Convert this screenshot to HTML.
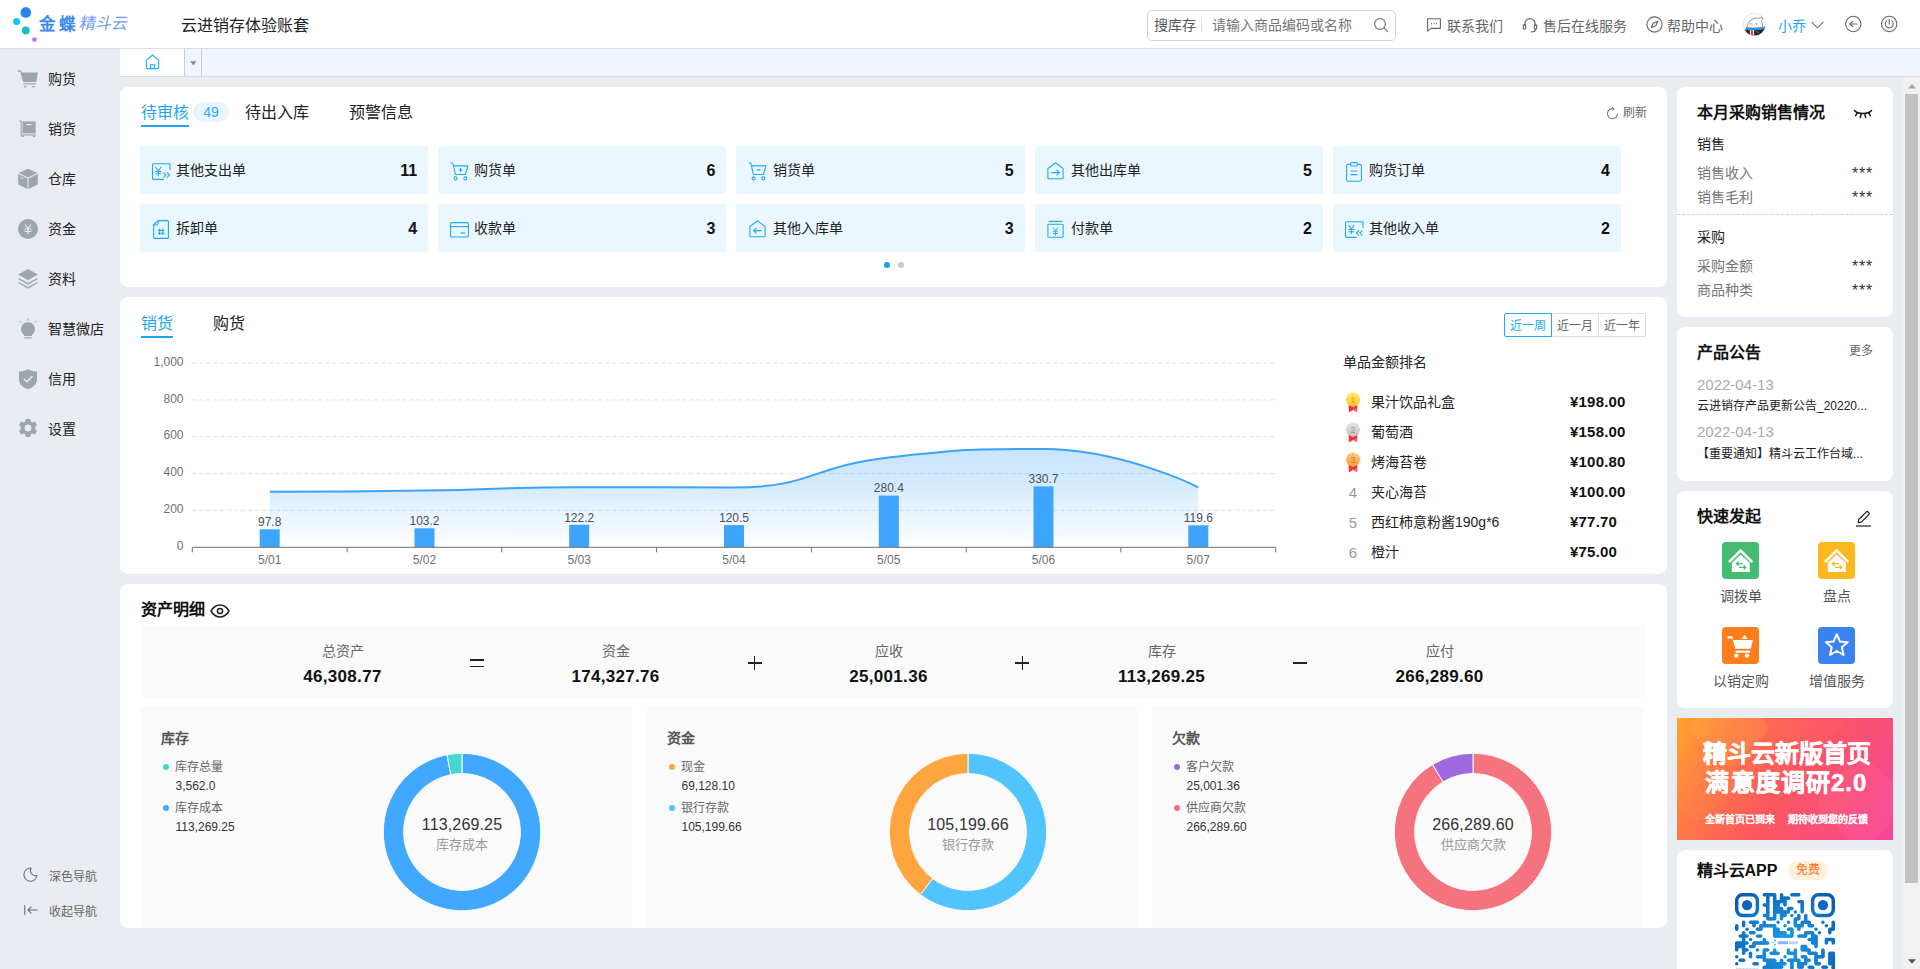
<!DOCTYPE html>
<html lang="zh-CN">
<head>
<meta charset="utf-8">
<title>云进销存体验账套</title>
<style>
*{box-sizing:border-box;margin:0;padding:0}
html,body{width:1920px;height:969px;overflow:hidden}
body{font-family:"Liberation Sans",sans-serif;background:#e9ecf1;color:#222;font-size:14px;position:relative}
.abs{position:absolute}
svg{display:block;overflow:visible}
/* header */
#hdr{position:absolute;left:0;top:0;width:1920px;height:49px;background:#fff;border-bottom:1px solid #dcdfe4}
#hdr .t{position:absolute;white-space:nowrap;line-height:20px;font-size:14px;color:#666}
/* tabbar */
#tabbar{position:absolute;left:120px;top:49px;width:1800px;height:28px;background:#f0f5fd;border-bottom:1px solid #dadde2}
#tabbar .home{position:absolute;left:0;top:0;width:65px;height:27px;background:#fff;border-right:1px solid #cbcdd0}
#tabbar .dd{position:absolute;left:65px;top:0;width:17px;height:27px;border-right:1px solid #cbcdd0}
/* sidebar */
#side{position:absolute;left:0;top:49px;width:120px;height:920px;background:#e9ecf1}
#side .it{position:absolute;left:0;width:120px;height:20px}
#side .it svg{position:absolute;left:17px;top:-1px}
#side .it span{position:absolute;left:48px;top:0;line-height:20px;font-size:14px;color:#222;white-space:nowrap}
#side .bt span{position:absolute;left:49px;top:0;line-height:20px;font-size:12px;color:#666;white-space:nowrap}
/* cards */
.card{position:absolute;background:#fff;border-radius:8px}
.tile{position:absolute;width:288.2px;height:48px;background:#eaf7ff;border-radius:2px}
.tile svg{position:absolute;left:11px;top:15px}
.tile span{position:absolute;left:36.2px;top:14px;line-height:20px;font-size:14px;color:#222;white-space:nowrap}
.tile b{position:absolute;right:11px;top:14px;line-height:22px;font-size:16px;color:#111;font-weight:700}
.tx{position:absolute;white-space:nowrap}
</style>
</head>
<body>
<!-- HEADER -->
<div id="hdr">
<svg class="abs" style="left:0;top:0" width="50" height="48" viewBox="0 0 50 48">
<defs><linearGradient id="lg1" x1="0" y1="0" x2="1" y2="1"><stop offset="0" stop-color="#3a8cf5"/><stop offset="1" stop-color="#1f7af0"/></linearGradient></defs>
<circle cx="25.8" cy="12.4" r="5.3" fill="#2b83f3"/>
<circle cx="16.6" cy="21.6" r="3.5" fill="#12c6fb"/>
<circle cx="25.8" cy="30.5" r="3.9" fill="#14c3bd"/>
<circle cx="34.5" cy="39.6" r="2.4" fill="#b27cf7"/>
</svg>
<div class="tx" style="left:38.800px;top:12.200px;line-height:24px;font-size:16.500px;font-weight:700;color:#3b87f3;letter-spacing:3px">金蝶</div>
<div class="tx" style="left:79.500px;top:12.300px;line-height:24px;font-size:16px;transform:skewX(-11deg);color:#6f9df6;letter-spacing:0">精斗云</div>
<div class="tx" style="left:181px;top:14px;line-height:24px;font-size:16px;color:#222">云进销存体验账套</div>
<!-- search -->
<div class="abs" style="left:1147px;top:10px;width:249px;height:31px;border:1px solid #d4d4d4;border-radius:5px;background:#fff"></div>
<div class="t" style="left:1154px;top:15px;color:#555">搜库存</div>
<div class="abs" style="left:1201px;top:18px;width:1px;height:14px;background:#ddd"></div>
<div class="t" style="left:1212px;top:15px;color:#777">请输入商品编码或名称</div>
<svg class="abs" style="left:1373px;top:17px" width="16" height="16" viewBox="0 0 16 16" fill="none" stroke="#777" stroke-width="1.2"><circle cx="7" cy="7" r="5.4"/><path d="M11 11l3.6 3.6" stroke-linecap="round"/></svg>
<!-- contact -->
<svg class="abs" style="left:1426px;top:17px" width="16" height="16" viewBox="0 0 16 16" fill="none" stroke="#666" stroke-width="1.1"><path d="M1.6 1.8h12.8v9.6H5l-3.4 2.8z" stroke-linejoin="round"/><path d="M5 6.6h1M7.5 6.6h1M10 6.6h1" stroke-width="1.3"/></svg>
<div class="t" style="left:1447px;top:16px">联系我们</div>
<svg class="abs" style="left:1522px;top:17px" width="16" height="16" viewBox="0 0 16 16" fill="none" stroke="#666" stroke-width="1.2"><path d="M3 9V6.6a5 5 0 0 1 10 0V9"/><rect x="1.3" y="7.6" width="2.4" height="4.6" rx="1.1"/><rect x="12.3" y="7.6" width="2.4" height="4.6" rx="1.1"/><path d="M13.5 12.2c0 1.6-1.4 2.6-4 2.6" stroke-linecap="round"/></svg>
<div class="t" style="left:1543px;top:16px">售后在线服务</div>
<svg class="abs" style="left:1646px;top:16px" width="17" height="17" viewBox="0 0 17 17" fill="none" stroke="#666" stroke-width="1.1"><circle cx="8.5" cy="8.5" r="7.6"/><path d="M11.8 5.2l-2 4.6-4.6 2 2-4.6z" stroke-linejoin="round"/></svg>
<div class="t" style="left:1667px;top:16px">帮助中心</div>
<!-- avatar -->
<svg class="abs" style="left:1743px;top:13px" width="24" height="24" viewBox="0 0 24 24">
<defs><clipPath id="avc"><circle cx="11.400" cy="11.500" r="11"/></clipPath></defs>
<circle cx="11.400" cy="11.500" r="11.200" fill="#fff" stroke="#dcdcdc" stroke-width="0.700"/>
<g clip-path="url(#avc)">
<path d="M3.900 15C4.200 11.500 5.800 8.500 9 6.300c2-1.100 5.500-1.300 8.200-1.300l2-1.100c.8.100 1.100.5.900 1.100l-1.600 2.700c.6 1.300 1.100 4.300 1.300 7.300z" fill="#fff" stroke="#85706c" stroke-width="0.800" stroke-linejoin="round"/>
<path d="M2 16.400c6 .6 14 .4 21-1.200V24H2z" fill="#2a2522"/>
<path d="M2.800 14.300c5.500 1 13 .8 20-1.100l.3 2.300c-7 2-14.500 2.100-20.300 1.400z" fill="#2e93e6"/>
<rect x="6.900" y="17" width="1.100" height="7" fill="#f4f4f4"/><rect x="8" y="17" width="1.800" height="7" fill="#d93a3a"/><rect x="9.800" y="17" width="1.300" height="7" fill="#f4f4f4"/>
<rect x="7.300" y="10.200" width=".9" height="1.300" fill="#555"/><rect x="12.900" y="10.200" width=".9" height="1.300" fill="#555"/>
<circle cx="9.900" cy="12.200" r=".6" fill="#f5a3a3"/>
<circle cx="14" cy="18.700" r=".6" fill="#3cc8c0"/><circle cx="15.300" cy="19.300" r=".5" fill="#3cc8c0"/><circle cx="13.600" cy="19.800" r=".4" fill="#e05aa0"/>
</g></svg>
<div class="t" style="left:1778px;top:16px;color:#21a3ee">小乔</div>
<svg class="abs" style="left:1811px;top:21px" width="13" height="8" viewBox="0 0 13 8" fill="none" stroke="#777" stroke-width="1.1"><path d="M.6 1l5.900 5.800L12.400 1"/></svg>
<svg class="abs" style="left:1844px;top:15px" width="18" height="18" viewBox="0 0 18 18" fill="none" stroke="#666" stroke-width="1.1"><circle cx="9.300" cy="9" r="7.700"/><path d="M13 9H6.200M8.800 6.300L6 9l2.800 2.700" stroke-linecap="round" stroke-linejoin="round"/></svg>
<svg class="abs" style="left:1880px;top:15px" width="18" height="18" viewBox="0 0 18 18" fill="none" stroke="#666" stroke-width="1.1"><circle cx="9.200" cy="9" r="7.700"/><path d="M9.200 4.200v5M6.600 5.900a4 4 0 1 0 5.200 0" stroke-linecap="round"/></svg>
</div>
<!-- TABBAR -->
<div id="tabbar"><div class="home"><svg class="abs" style="left:25px;top:5px" width="15" height="16" viewBox="0 0 15 16" fill="none" stroke="#22a8fb" stroke-width="1.1"><path d="M1.300 6.300L7.500 1l6.200 5.300v7.500a.8.800 0 0 1-.8.800H2.100a.8.800 0 0 1-.8-.8z" stroke-linejoin="round"/><path d="M5.600 14.500v-3.700h3.800v3.700"/></svg></div><div class="dd"><svg class="abs" style="left:5px;top:12px" width="7" height="5" viewBox="0 0 7 5"><path d="M0 .3h6.600L3.300 4.300z" fill="#8a8a8a"/></svg></div></div>
<!-- SIDEBAR -->
<div id="side">
<div class="it" style="top:20px"><svg width="22" height="22" viewBox="0 0 22 22"><path d="M.8 2.200h3.200l.9 2.400h16l-1.600 9.400H6.200L3.200 3.700H.8z" fill="#9da6ac"/><rect x="6.400" y="15.300" width="12.600" height="1.100" fill="#9da6ac"/><rect x="7" y="17.900" width="2.400" height="1.500" fill="#9da6ac"/><rect x="15.400" y="17.900" width="2.400" height="1.500" fill="#9da6ac"/></svg><span>购货</span></div>
<div class="it" style="top:70px"><svg width="22" height="22" viewBox="0 0 22 22"><path d="M2 3h2.200v14.800" fill="none" stroke="#9da6ac" stroke-width="1.100"/><rect x="5.500" y="3.400" width="13.200" height="12" fill="#9da6ac"/><rect x="9.500" y="6" width="5" height="1.100" fill="#e9ecf1"/><rect x="3.800" y="16.400" width="15" height="1.200" fill="#9da6ac"/><rect x="4.600" y="17.600" width="2.200" height="1.400" fill="#9da6ac"/><rect x="16" y="17.600" width="2.200" height="1.400" fill="#9da6ac"/></svg><span>销货</span></div>
<div class="it" style="top:120px"><svg width="22" height="22" viewBox="0 0 22 22"><path d="M11 .8l9.300 4.300-9.300 4.400L1.700 5.100z" fill="#9da6ac"/><path d="M1.200 6.100l9.300 4.400v10.500l-9.300-4.600z" fill="#9da6ac"/><path d="M20.800 6.100l-9.300 4.400v10.500l9.300-4.600z" fill="#9da6ac"/><path d="M3.200 9.300l3.200 1.500" stroke="#e9ecf1" stroke-width="1"/></svg><span>仓库</span></div>
<div class="it" style="top:170px"><svg width="22" height="22" viewBox="0 0 22 22"><circle cx="11" cy="11" r="10" fill="#9da6ac"/><path d="M8 6.500l3 4 3-4M7.600 11h6.800M7.600 13.400h6.800M11 10.500v5.500" fill="none" stroke="#e9ecf1" stroke-width="1.100"/></svg><span>资金</span></div>
<div class="it" style="top:220px"><svg width="22" height="22" viewBox="0 0 22 22"><path d="M11 1l10 5.600-10 5.600L1 6.600z" fill="#9da6ac"/><path d="M2.600 10.200L1 11.100l10 5.600 10-5.600-1.600-.9L11 14.900z" fill="#9da6ac"/><path d="M2.600 14.200L1 15.100l10 5.600 10-5.600-1.600-.9L11 18.900z" fill="#9da6ac"/></svg><span>资料</span></div>
<div class="it" style="top:270px"><svg width="22" height="22" viewBox="0 0 22 22"><path d="M11 4.200a7 7 0 0 1 4 12.700v1.100H7v-1.100A7 7 0 0 1 11 4.200z" fill="#9da6ac"/><rect x="7.200" y="19.200" width="7.600" height="1.200" fill="#9da6ac"/><path d="M11 .6v2.200M3 3.200l1.500 1.600M19 3.200l-1.500 1.600" stroke="#9da6ac" stroke-width="1" fill="none"/></svg><span>智慧微店</span></div>
<div class="it" style="top:320px"><svg width="22" height="22" viewBox="0 0 22 22"><path d="M11 1c2.500 1.500 5.500 2.400 9 2.600V11c0 5-3.500 8.200-9 10.200C5.500 19.200 2 16 2 11V3.600C5.500 3.400 8.500 2.500 11 1z" fill="#9da6ac"/><path d="M7 11l3 2.800 5.400-5.600" fill="none" stroke="#e9ecf1" stroke-width="1.400"/></svg><span>信用</span></div>
<div class="it" style="top:370px"><svg width="22" height="22" viewBox="0 0 22 22"><path d="M9.200 1.400h3.600l.6 2.600 1.700.9 2.500-1 1.900 3-1.800 2v2.200l1.800 2-1.900 3-2.500-1-1.700.9-.6 2.600H9.200l-.6-2.600-1.700-.9-2.500 1-1.900-3 1.800-2V8.900l-1.800-2 1.900-3 2.500 1 1.700-.9z" fill="#9da6ac" stroke="#9da6ac" stroke-width="1" stroke-linejoin="round"/><circle cx="11" cy="10" r="3.400" fill="#e9ecf1"/></svg><span>设置</span></div>
<div class="it bt" style="top:817.500px"><svg style="left:23.200px;top:.8px" width="15" height="15" viewBox="0 0 16 16" fill="none" stroke="#5f6f7e" stroke-width="1.100"><path d="M8.600 1.200A7 7 0 1 0 14.900 9 5.400 5.400 0 0 1 8.600 1.200z" stroke-linejoin="round"/></svg><span>深色导航</span></div>
<div class="it bt" style="top:852.500px"><svg style="left:23.500px;top:3px" width="14" height="10" viewBox="0 0 14 10" fill="none" stroke="#5f6f7e" stroke-width="1.100"><path d="M.8 .3v9.400M13.500 5H4M7.400 1.600L4 5l3.400 3.400"/></svg><span>收起导航</span></div>
</div>
<!-- CARD1 -->
<div class="card" id="c1" style="left:120px;top:87px;width:1547px;height:200px">
<div class="tx" style="left:21px;top:14px;line-height:24px;font-size:16px;color:#1fa5ef">待审核</div>
<div class="abs" style="left:21px;top:38px;width:48px;height:2px;background:#1fa5ef"></div>
<div class="abs" style="left:73px;top:15px;width:36px;height:20px;border-radius:10px;background:#e8f5ff;color:#2aa9f6;font-size:14px;line-height:20px;text-align:center">49</div>
<div class="tx" style="left:125px;top:14px;line-height:24px;font-size:16px;color:#222">待出入库</div>
<div class="tx" style="left:229px;top:14px;line-height:24px;font-size:16px;color:#222">预警信息</div>
<svg class="abs" style="left:1486px;top:20px" width="13" height="13" viewBox="0 0 13 13" fill="none" stroke="#777" stroke-width="1.100"><path d="M7.600 1.800A5 5 0 1 0 11.500 6.800"/><path d="M6 .3l2.200 1.500L6.400 3.800" stroke-width="1"/></svg>
<div class="tx" style="left:1503px;top:17.200px;line-height:18px;font-size:12px;color:#666">刷新</div>
<div class="tile" style="left:20.0px;top:59px"><svg style="left:12px;top:17px" width="19" height="18" viewBox="0 0 19 18" fill="none" stroke="#22a8fb" stroke-width="1.100" ><path d="M18 7V1.600a.8.800 0 0 0-.8-.8H1.300a.8.800 0 0 0-.8.800v14a.8.800 0 0 0 .8.800H12"/><path d="M3.400 4l2.900 3.900L9.200 4M3.300 8.500h6M3.300 10.700h6M6.300 7.900v5.300" stroke-width="1.100"/><path d="M11.400 9.400l2.500 2.600-2.500 2.600M14.900 9.400l2.500 2.600-2.500 2.600" stroke-width="1.100"/></svg><span>其他支出单</span><b>11</b></div>
<div class="tile" style="left:318.2px;top:59px"><svg style="left:12px;top:16px" width="19" height="19" viewBox="0 0 19 19" fill="none" stroke="#22a8fb" stroke-width="1.100" ><path d="M.5 1h2.300l2.600 11.500h10l2.600-8.600H3.600" stroke-linejoin="round"/><circle cx="5.600" cy="16.400" r="1.500"/><circle cx="15.300" cy="16.400" r="1.500"/><path d="M8.600 8h4M10.600 6v4" stroke-width="1.200"/></svg><span>购货单</span><b>6</b></div>
<div class="tile" style="left:616.4px;top:59px"><svg style="left:12px;top:16px" width="19" height="19" viewBox="0 0 19 19" fill="none" stroke="#22a8fb" stroke-width="1.100" ><path d="M.5 1h2.300l2.600 11.500h10l2.600-8.600H3.600" stroke-linejoin="round"/><circle cx="5.600" cy="16.400" r="1.500"/><circle cx="15.300" cy="16.400" r="1.500"/><path d="M8.600 8h4" stroke-width="1.200"/></svg><span>销货单</span><b>5</b></div>
<div class="tile" style="left:914.6px;top:59px"><svg style="left:12.5px;top:16px" width="17" height="18" viewBox="0 0 17 18" fill="none" stroke="#22a8fb" stroke-width="1.100" ><path d="M.9 6.500L8.500.8l7.600 5.700v9.900a.4.400 0 0 1-.4.400H1.300a.4.400 0 0 1-.4-.4z" stroke-linejoin="miter"/><path d="M4.300 10.600h8M9.600 7.800l2.800 2.800-2.800 2.800" stroke-width="1.100"/></svg><span>其他出库单</span><b>5</b></div>
<div class="tile" style="left:1212.8px;top:59px"><svg style="left:13px;top:15.5px" width="16" height="20" viewBox="0 0 16 20" fill="none" stroke="#22a8fb" stroke-width="1.100" ><rect x=".6" y="2.400" width="14.800" height="16.800" rx="1.600"/><rect x="4.600" y=".6" width="6.800" height="3.400" rx="1" fill="#eaf7ff"/><path d="M4.600 9h6.800M4.600 12.600h6.800" stroke-width="1.200"/></svg><span>购货订单</span><b>4</b></div>
<div class="tile" style="left:20.0px;top:117px"><svg style="left:12.5px;top:16px" width="16" height="19" viewBox="0 0 16 19" fill="none" stroke="#22a8fb" stroke-width="1.100" ><path d="M5 .6h9.400a1 1 0 0 1 1 1v15.800a1 1 0 0 1-1 1H1.600a1 1 0 0 1-1-1V5z" stroke-linejoin="round"/><path d="M5 .6v3.400a1 1 0 0 1-1 1H.6" stroke-width="1"/><path d="M6.600 8.600v6.400M9.800 8.600v6.400M5 10.400h6.400M5 13.200h6.400" stroke-width="1.100"/></svg><span>拆卸单</span><b>4</b></div>
<div class="tile" style="left:318.2px;top:117px"><svg style="left:12px;top:18px" width="19" height="16" viewBox="0 0 19 16" fill="none" stroke="#22a8fb" stroke-width="1.100" ><rect x=".6" y=".6" width="17.800" height="14.400" rx="1.400"/><path d="M.6 4.600h17.800" stroke-width="1.100"/><path d="M10.600 11h4.400" stroke-width="1.200"/></svg><span>收款单</span><b>3</b></div>
<div class="tile" style="left:616.4px;top:117px"><svg style="left:12.5px;top:16px" width="17" height="18" viewBox="0 0 17 18" fill="none" stroke="#22a8fb" stroke-width="1.100" ><path d="M.9 6.500L8.500.8l7.600 5.700v9.900a.4.400 0 0 1-.4.400H1.300a.4.400 0 0 1-.4-.4z" stroke-linejoin="miter"/><path d="M12.700 10.600h-8M7.400 7.800l-2.800 2.800 2.800 2.800" stroke-width="1.100"/></svg><span>其他入库单</span><b>3</b></div>
<div class="tile" style="left:914.6px;top:117px"><svg style="left:12.5px;top:15px" width="17" height="19" viewBox="0 0 17 19" fill="none" stroke="#22a8fb" stroke-width="1.100" ><path d="M1.600 2.400h13.800" stroke-width="1.200"/><rect x=".9" y="5.300" width="15.200" height="13" rx=".8"/><path d="M6 8.300l2.500 3.300 2.500-3.300M6 12.200h5M6 14.500h5M8.500 11.600v4.800" stroke-width="1"/></svg><span>付款单</span><b>2</b></div>
<div class="tile" style="left:1212.8px;top:117px"><svg style="left:12px;top:17px" width="19" height="18" viewBox="0 0 19 18" fill="none" stroke="#22a8fb" stroke-width="1.100" ><path d="M18 7V1.600a.8.800 0 0 0-.8-.8H1.300a.8.800 0 0 0-.8.800v14a.8.800 0 0 0 .8.800H12"/><path d="M3.400 4l2.900 3.900L9.200 4M3.300 8.500h6M3.300 10.700h6M6.300 7.900v5.300" stroke-width="1.100"/><path d="M13.900 9.400l-2.500 2.600 2.500 2.600M17.400 9.400l-2.500 2.600 2.500 2.600" stroke-width="1.100"/></svg><span>其他收入单</span><b>2</b></div>
<div class="abs" style="left:764px;top:175px;width:6px;height:6px;border-radius:3px;background:#1b9ef0"></div>
<div class="abs" style="left:778px;top:175px;width:6px;height:6px;border-radius:3px;background:#c9c9c9"></div>
</div>
<!-- CARD2 -->
<div class="card" id="c2" style="left:120px;top:297px;width:1547px;height:277px">
<div class="tx" style="left:21px;top:15px;line-height:24px;font-size:16px;color:#1fa5ef">销货</div>
<div class="abs" style="left:21px;top:39px;width:32px;height:2px;background:#1fa5ef"></div>
<div class="tx" style="left:93px;top:15px;line-height:24px;font-size:16px;color:#222">购货</div>
<div class="abs" style="left:1431px;top:16px;width:48px;height:24px;border:1px solid #d9dde2;border-left:none;font-size:12px;padding-top:1.200px;line-height:22.500px;text-align:center;color:#666">近一月</div>
<div class="abs" style="left:1479px;top:16px;width:47px;height:24px;border:1px solid #d9dde2;border-left:none;border-radius:0 2px 2px 0;font-size:12px;padding-top:1.200px;line-height:22.500px;text-align:center;color:#666">近一年</div>
<div class="abs" style="left:1384px;top:16px;width:48px;height:24px;border:1px solid #1fa9fc;border-radius:2px 0 0 2px;font-size:12px;padding-top:1.200px;line-height:22.500px;text-align:center;color:#22a8fa;background:#fff">近一周</div>
<svg class="abs" style="left:0;top:0" width="1547" height="277" viewBox="120 297 1547 277" font-family="Liberation Sans, sans-serif" font-size="12">
<defs><linearGradient id="ag" x1="0" y1="449" x2="0" y2="547" gradientUnits="userSpaceOnUse"><stop offset="0" stop-color="#4aa8fb" stop-opacity=".30"/><stop offset=".35" stop-color="#4aa8fb" stop-opacity=".24"/><stop offset="1" stop-color="#4aa8fb" stop-opacity="0"/></linearGradient></defs>
<path d="M192.3 363.0H1275.7" stroke="#dce2ed" stroke-width="1" stroke-dasharray="4 3" fill="none"/>
<text x="183.5" y="365.6" text-anchor="end" fill="#6e7079">1,000</text>
<path d="M192.3 399.9H1275.7" stroke="#dce2ed" stroke-width="1" stroke-dasharray="4 3" fill="none"/>
<text x="183.5" y="402.5" text-anchor="end" fill="#6e7079">800</text>
<path d="M192.3 436.7H1275.7" stroke="#dce2ed" stroke-width="1" stroke-dasharray="4 3" fill="none"/>
<text x="183.5" y="439.3" text-anchor="end" fill="#6e7079">600</text>
<path d="M192.3 473.6H1275.7" stroke="#dce2ed" stroke-width="1" stroke-dasharray="4 3" fill="none"/>
<text x="183.5" y="476.2" text-anchor="end" fill="#6e7079">400</text>
<path d="M192.3 510.4H1275.7" stroke="#dce2ed" stroke-width="1" stroke-dasharray="4 3" fill="none"/>
<text x="183.5" y="513.0" text-anchor="end" fill="#6e7079">200</text>
<text x="183.5" y="549.9" text-anchor="end" fill="#6e7079">0</text>
<path d="M269.7 491.8C269.7 491.8 347.1 491.8 424.5 490.6C501.9 489.5 501.8 487.2 579.2 487.2C656.6 487.2 657.3 487.5 734.0 487.5C812.1 487.5 810.7 466.2 888.8 457.5C965.5 449.0 967.2 449.0 1043.5 449.0C1122.0 449.0 1198.3 487.3 1198.3 487.3L1198.3 547.3L269.7 547.3Z" fill="url(#ag)"/>
<path d="M269.7 491.8C269.7 491.8 347.1 491.8 424.5 490.6C501.9 489.5 501.8 487.2 579.2 487.2C656.6 487.2 657.3 487.5 734.0 487.5C812.1 487.5 810.7 466.2 888.8 457.5C965.5 449.0 967.2 449.0 1043.5 449.0C1122.0 449.0 1198.3 487.3 1198.3 487.3" fill="none" stroke="#3ba3fb" stroke-width="2" stroke-linejoin="round"/>
<rect x="259.7" y="529.3" width="20" height="18.0" fill="#3ea5ff"/>
<text x="269.7" y="526.0" text-anchor="middle" fill="#4a4f57">97.8</text>
<text x="269.7" y="563.6" text-anchor="middle" fill="#6e7079">5/01</text>
<rect x="414.5" y="528.3" width="20" height="19.0" fill="#3ea5ff"/>
<text x="424.5" y="525.0" text-anchor="middle" fill="#4a4f57">103.2</text>
<text x="424.5" y="563.6" text-anchor="middle" fill="#6e7079">5/02</text>
<rect x="569.2" y="524.8" width="20" height="22.5" fill="#3ea5ff"/>
<text x="579.2" y="521.5" text-anchor="middle" fill="#4a4f57">122.2</text>
<text x="579.2" y="563.6" text-anchor="middle" fill="#6e7079">5/03</text>
<rect x="724.0" y="525.1" width="20" height="22.2" fill="#3ea5ff"/>
<text x="734.0" y="521.8" text-anchor="middle" fill="#4a4f57">120.5</text>
<text x="734.0" y="563.6" text-anchor="middle" fill="#6e7079">5/04</text>
<rect x="878.8" y="495.6" width="20" height="51.7" fill="#3ea5ff"/>
<text x="888.8" y="492.3" text-anchor="middle" fill="#4a4f57">280.4</text>
<text x="888.8" y="563.6" text-anchor="middle" fill="#6e7079">5/05</text>
<rect x="1033.5" y="486.4" width="20" height="60.9" fill="#3ea5ff"/>
<text x="1043.5" y="483.1" text-anchor="middle" fill="#4a4f57">330.7</text>
<text x="1043.5" y="563.6" text-anchor="middle" fill="#6e7079">5/06</text>
<rect x="1188.3" y="525.3" width="20" height="22.0" fill="#3ea5ff"/>
<text x="1198.3" y="522.0" text-anchor="middle" fill="#4a4f57">119.6</text>
<text x="1198.3" y="563.6" text-anchor="middle" fill="#6e7079">5/07</text>
<path d="M192.3 547.3H1275.7" stroke="#6e7079" stroke-width="1" fill="none"/>
<path d="M192.3 547.3v5" stroke="#6e7079" stroke-width="1" fill="none"/>
<path d="M347.1 547.3v5" stroke="#6e7079" stroke-width="1" fill="none"/>
<path d="M501.8 547.3v5" stroke="#6e7079" stroke-width="1" fill="none"/>
<path d="M656.6 547.3v5" stroke="#6e7079" stroke-width="1" fill="none"/>
<path d="M811.4 547.3v5" stroke="#6e7079" stroke-width="1" fill="none"/>
<path d="M966.2 547.3v5" stroke="#6e7079" stroke-width="1" fill="none"/>
<path d="M1120.9 547.3v5" stroke="#6e7079" stroke-width="1" fill="none"/>
<path d="M1275.7 547.3v5" stroke="#6e7079" stroke-width="1" fill="none"/>
</svg>
<div class="tx" style="left:1223px;top:55px;line-height:20px;font-size:14px;color:#222">单品金额排名</div>
<svg class="abs" style="left:1225px;top:95px" width="16" height="22" viewBox="0 0 16 22"><defs><linearGradient id="mg1" x1="0" y1="0" x2="0" y2="1"><stop offset="0" stop-color="#ffe96a"/><stop offset="1" stop-color="#fdc52c"/></linearGradient></defs><path d="M3.800 12.500v7.900l4.200-2.500z" fill="#f3333b"/><path d="M12.200 12.500v7.900L8 17.900z" fill="#f7636c"/><path d="M3.800 12.500h8.400v3.500L8 17.900 3.800 16z" fill="#f3333b"/><polygon points="8.00,0.60 10.41,1.78 12.95,2.65 13.82,5.19 15.00,7.60 13.82,10.01 12.95,12.55 10.41,13.42 8.00,14.60 5.59,13.42 3.05,12.55 2.18,10.01 1.00,7.60 2.18,5.19 3.05,2.65 5.59,1.78" fill="url(#mg1)" stroke="url(#mg1)" stroke-width="1" stroke-linejoin="round"/><text x="8" y="10.800" font-size="9" text-anchor="middle" fill="#e49a1c" font-family="Liberation Sans, sans-serif">1</text></svg>
<div class="tx" style="left:1251px;top:95px;line-height:20px;font-size:14px;color:#222">果汁饮品礼盒</div>
<div class="tx" style="left:1450px;top:95px;line-height:20px;font-size:15px;font-weight:700;color:#111;letter-spacing:.2px">¥198.00</div>
<svg class="abs" style="left:1225px;top:125px" width="16" height="22" viewBox="0 0 16 22"><defs><linearGradient id="mg2" x1="0" y1="0" x2="0" y2="1"><stop offset="0" stop-color="#e4e4e4"/><stop offset="1" stop-color="#c4c4c4"/></linearGradient></defs><path d="M3.800 12.500v7.900l4.200-2.500z" fill="#f3333b"/><path d="M12.200 12.500v7.900L8 17.900z" fill="#f7636c"/><path d="M3.800 12.500h8.400v3.500L8 17.900 3.800 16z" fill="#f3333b"/><polygon points="8.00,0.60 10.41,1.78 12.95,2.65 13.82,5.19 15.00,7.60 13.82,10.01 12.95,12.55 10.41,13.42 8.00,14.60 5.59,13.42 3.05,12.55 2.18,10.01 1.00,7.60 2.18,5.19 3.05,2.65 5.59,1.78" fill="url(#mg2)" stroke="url(#mg2)" stroke-width="1" stroke-linejoin="round"/><text x="8" y="10.800" font-size="9" text-anchor="middle" fill="#9a9a9a" font-family="Liberation Sans, sans-serif">2</text></svg>
<div class="tx" style="left:1251px;top:125px;line-height:20px;font-size:14px;color:#222">葡萄酒</div>
<div class="tx" style="left:1450px;top:125px;line-height:20px;font-size:15px;font-weight:700;color:#111;letter-spacing:.2px">¥158.00</div>
<svg class="abs" style="left:1225px;top:155px" width="16" height="22" viewBox="0 0 16 22"><defs><linearGradient id="mg3" x1="0" y1="0" x2="0" y2="1"><stop offset="0" stop-color="#fdca86"/><stop offset="1" stop-color="#f99e3c"/></linearGradient></defs><path d="M3.800 12.500v7.900l4.200-2.500z" fill="#f3333b"/><path d="M12.200 12.500v7.900L8 17.900z" fill="#f7636c"/><path d="M3.800 12.500h8.400v3.500L8 17.900 3.800 16z" fill="#f3333b"/><polygon points="8.00,0.60 10.41,1.78 12.95,2.65 13.82,5.19 15.00,7.60 13.82,10.01 12.95,12.55 10.41,13.42 8.00,14.60 5.59,13.42 3.05,12.55 2.18,10.01 1.00,7.60 2.18,5.19 3.05,2.65 5.59,1.78" fill="url(#mg3)" stroke="url(#mg3)" stroke-width="1" stroke-linejoin="round"/><text x="8" y="10.800" font-size="9" text-anchor="middle" fill="#dd7414" font-family="Liberation Sans, sans-serif">3</text></svg>
<div class="tx" style="left:1251px;top:155px;line-height:20px;font-size:14px;color:#222">烤海苔卷</div>
<div class="tx" style="left:1450px;top:155px;line-height:20px;font-size:15px;font-weight:700;color:#111;letter-spacing:.2px">¥100.80</div>
<div class="tx" style="left:1223px;top:186px;width:20px;text-align:center;line-height:20px;font-size:15px;color:#999">4</div>
<div class="tx" style="left:1251px;top:185px;line-height:20px;font-size:14px;color:#222">夹心海苔</div>
<div class="tx" style="left:1450px;top:185px;line-height:20px;font-size:15px;font-weight:700;color:#111;letter-spacing:.2px">¥100.00</div>
<div class="tx" style="left:1223px;top:216px;width:20px;text-align:center;line-height:20px;font-size:15px;color:#999">5</div>
<div class="tx" style="left:1251px;top:215px;line-height:20px;font-size:14px;color:#222">西红柿意粉酱190g*6</div>
<div class="tx" style="left:1450px;top:215px;line-height:20px;font-size:15px;font-weight:700;color:#111;letter-spacing:.2px">¥77.70</div>
<div class="tx" style="left:1223px;top:246px;width:20px;text-align:center;line-height:20px;font-size:15px;color:#999">6</div>
<div class="tx" style="left:1251px;top:245px;line-height:20px;font-size:14px;color:#222">橙汁</div>
<div class="tx" style="left:1450px;top:245px;line-height:20px;font-size:15px;font-weight:700;color:#111;letter-spacing:.2px">¥75.00</div>
</div>
<!-- CARD3 -->
<div class="card" id="c3" style="left:120px;top:584px;width:1547px;height:344px;overflow:hidden">
<div class="tx" style="left:21px;top:14px;line-height:24px;font-size:16px;font-weight:700;color:#111">资产明细</div>
<svg class="abs" style="left:90px;top:20px" width="20" height="14" viewBox="0 0 20 14" fill="none" stroke="#222" stroke-width="1.500"><path d="M1 7C3.500 2.800 6.500 1 10 1s6.500 1.800 9 6c-2.500 4.200-5.500 6-9 6S3.500 11.200 1 7z" stroke-linejoin="round"/><circle cx="10" cy="7" r="2.600"/></svg>
<div class="abs" style="left:21px;top:41px;width:1505px;height:72px;background:#fafafa"></div>
<div class="tx" style="left:162.5px;top:57px;width:120px;text-align:center;line-height:20px;font-size:14px;color:#666">总资产</div>
<div class="tx" style="left:162.5px;top:82.2px;width:120px;text-align:center;line-height:22px;font-size:17px;font-weight:700;color:#111;letter-spacing:.3px">46,308.77</div>
<div class="tx" style="left:435.5px;top:57px;width:120px;text-align:center;line-height:20px;font-size:14px;color:#666">资金</div>
<div class="tx" style="left:435.5px;top:82.2px;width:120px;text-align:center;line-height:22px;font-size:17px;font-weight:700;color:#111;letter-spacing:.3px">174,327.76</div>
<div class="tx" style="left:708.5px;top:57px;width:120px;text-align:center;line-height:20px;font-size:14px;color:#666">应收</div>
<div class="tx" style="left:708.5px;top:82.2px;width:120px;text-align:center;line-height:22px;font-size:17px;font-weight:700;color:#111;letter-spacing:.3px">25,001.36</div>
<div class="tx" style="left:981.5px;top:57px;width:120px;text-align:center;line-height:20px;font-size:14px;color:#666">库存</div>
<div class="tx" style="left:981.5px;top:82.2px;width:120px;text-align:center;line-height:22px;font-size:17px;font-weight:700;color:#111;letter-spacing:.3px">113,269.25</div>
<div class="tx" style="left:1259.5px;top:57px;width:120px;text-align:center;line-height:20px;font-size:14px;color:#666">应付</div>
<div class="tx" style="left:1259.5px;top:82.2px;width:120px;text-align:center;line-height:22px;font-size:17px;font-weight:700;color:#111;letter-spacing:.3px">266,289.60</div>
<div class="abs" style="left:349.6px;top:75px;width:14px;height:1.600px;background:#222"></div><div class="abs" style="left:349.6px;top:81.5px;width:14px;height:1.600px;background:#222"></div>
<div class="abs" style="left:627.5px;top:78.2px;width:14px;height:1.600px;background:#222"></div><div class="abs" style="left:633.7px;top:72px;width:1.600px;height:14px;background:#222"></div>
<div class="abs" style="left:895.3px;top:78.2px;width:14px;height:1.600px;background:#222"></div><div class="abs" style="left:901.5px;top:72px;width:1.600px;height:14px;background:#222"></div>
<div class="abs" style="left:1173.4px;top:78.2px;width:14px;height:1.600px;background:#222"></div>
<div class="abs" style="left:21px;top:123px;width:491px;height:230px;background:#fafafa">
<div class="tx" style="left:20px;top:21.4px;line-height:20px;font-size:14px;font-weight:700;color:#555">库存</div>
<div class="abs" style="left:21.500px;top:57px;width:6px;height:6px;border-radius:3px;background:#45d6ce"></div>
<div class="tx" style="left:34px;top:51px;line-height:18px;font-size:12px;color:#666">库存总量</div>
<div class="tx" style="left:34.500px;top:69.7px;line-height:18px;font-size:12px;color:#333">3,562.0</div>
<div class="abs" style="left:21.500px;top:98px;width:6px;height:6px;border-radius:3px;background:#40a9ff"></div>
<div class="tx" style="left:34px;top:92px;line-height:18px;font-size:12px;color:#666">库存成本</div>
<div class="tx" style="left:34.500px;top:110.7px;line-height:18px;font-size:12px;color:#333">113,269.25</div>
<svg class="abs" style="left:0;top:0" width="491" height="221" viewBox="0 0 491 221"><path d="M321.00 46.30A78.7 78.7 0 1 1 306.02 47.74L309.88 67.67A58.4 58.4 0 1 0 321.00 66.60Z" fill="#40a9ff" stroke="#fafafa" stroke-width="1" stroke-linejoin="round"/><path d="M306.02 47.74A78.7 78.7 0 0 1 321.00 46.30L321.00 66.60A58.4 58.4 0 0 0 309.88 67.67Z" fill="#45d6ce" stroke="#fafafa" stroke-width="1" stroke-linejoin="round"/></svg>
<div class="tx" style="left:251px;top:107px;width:140px;text-align:center;line-height:22px;font-size:16px;color:#333;letter-spacing:.15px">113,269.25</div>
<div class="tx" style="left:251px;top:128.0px;width:140px;text-align:center;line-height:20px;font-size:13px;color:#999">库存成本</div>
</div>
<div class="abs" style="left:527px;top:123px;width:490px;height:230px;background:#fafafa">
<div class="tx" style="left:20px;top:21.4px;line-height:20px;font-size:14px;font-weight:700;color:#555">资金</div>
<div class="abs" style="left:21.500px;top:57px;width:6px;height:6px;border-radius:3px;background:#fda640"></div>
<div class="tx" style="left:34px;top:51px;line-height:18px;font-size:12px;color:#666">现金</div>
<div class="tx" style="left:34.500px;top:69.7px;line-height:18px;font-size:12px;color:#333">69,128.10</div>
<div class="abs" style="left:21.500px;top:98px;width:6px;height:6px;border-radius:3px;background:#52c4fc"></div>
<div class="tx" style="left:34px;top:92px;line-height:18px;font-size:12px;color:#666">银行存款</div>
<div class="tx" style="left:34.500px;top:110.7px;line-height:18px;font-size:12px;color:#333">105,199.66</div>
<svg class="abs" style="left:0;top:0" width="490" height="221" viewBox="0 0 490 221"><path d="M321.00 46.30A78.7 78.7 0 1 1 273.37 187.65L285.65 171.49A58.4 58.4 0 1 0 321.00 66.60Z" fill="#52c4fc" stroke="#fafafa" stroke-width="1" stroke-linejoin="round"/><path d="M273.37 187.65A78.7 78.7 0 0 1 321.00 46.30L321.00 66.60A58.4 58.4 0 0 0 285.65 171.49Z" fill="#fda640" stroke="#fafafa" stroke-width="1" stroke-linejoin="round"/></svg>
<div class="tx" style="left:251px;top:107px;width:140px;text-align:center;line-height:22px;font-size:16px;color:#333;letter-spacing:.15px">105,199.66</div>
<div class="tx" style="left:251px;top:128.0px;width:140px;text-align:center;line-height:20px;font-size:13px;color:#999">银行存款</div>
</div>
<div class="abs" style="left:1032px;top:123px;width:491px;height:230px;background:#fafafa">
<div class="tx" style="left:20px;top:21.4px;line-height:20px;font-size:14px;font-weight:700;color:#555">欠款</div>
<div class="abs" style="left:21.500px;top:57px;width:6px;height:6px;border-radius:3px;background:#9f69e0"></div>
<div class="tx" style="left:34px;top:51px;line-height:18px;font-size:12px;color:#666">客户欠款</div>
<div class="tx" style="left:34.500px;top:69.7px;line-height:18px;font-size:12px;color:#333">25,001.36</div>
<div class="abs" style="left:21.500px;top:98px;width:6px;height:6px;border-radius:3px;background:#f5737f"></div>
<div class="tx" style="left:34px;top:92px;line-height:18px;font-size:12px;color:#666">供应商欠款</div>
<div class="tx" style="left:34.500px;top:110.7px;line-height:18px;font-size:12px;color:#333">266,289.60</div>
<svg class="abs" style="left:0;top:0" width="491" height="221" viewBox="0 0 491 221"><path d="M321.00 46.30A78.7 78.7 0 1 1 280.59 57.47L291.01 74.89A58.4 58.4 0 1 0 321.00 66.60Z" fill="#f5737f" stroke="#fafafa" stroke-width="1" stroke-linejoin="round"/><path d="M280.59 57.47A78.7 78.7 0 0 1 321.00 46.30L321.00 66.60A58.4 58.4 0 0 0 291.01 74.89Z" fill="#9f69e0" stroke="#fafafa" stroke-width="1" stroke-linejoin="round"/></svg>
<div class="tx" style="left:251px;top:107px;width:140px;text-align:center;line-height:22px;font-size:16px;color:#333;letter-spacing:.15px">266,289.60</div>
<div class="tx" style="left:251px;top:128.0px;width:140px;text-align:center;line-height:20px;font-size:13px;color:#999">供应商欠款</div>
</div>
</div>
<!-- RIGHT -->
<div class="card" id="r1" style="left:1677px;top:87px;width:216px;height:230px">
<div class="tx" style="left:20px;top:13.500px;line-height:24px;font-size:16px;font-weight:700;color:#111">本月采购销售情况</div>
<svg class="abs" style="left:176px;top:21px" width="20" height="12" viewBox="0 0 20 12" fill="none" stroke="#111" stroke-width="1.500" stroke-linecap="round"><path d="M1.500 2.500C5 6.500 15 6.500 18.500 2.500"/><path d="M4.200 5.200L2.600 7.600M8 6.400L7.400 9.400M12 6.400l.6 3M15.800 5.200l1.600 2.400"/></svg>
<div class="tx" style="left:20px;top:47px;line-height:20px;font-size:14px;color:#222">销售</div>
<div class="tx" style="left:20px;top:76px;line-height:20px;font-size:14px;color:#777">销售收入</div>
<div class="tx" style="right:20px;top:77px;line-height:20px;font-size:16px;color:#333;letter-spacing:.8px">***</div>
<div class="tx" style="left:20px;top:100px;line-height:20px;font-size:14px;color:#777">销售毛利</div>
<div class="tx" style="right:20px;top:101px;line-height:20px;font-size:16px;color:#333;letter-spacing:.8px">***</div>
<div class="abs" style="left:0;top:127px;width:216px;height:0;border-top:1px dashed #cfcfcf"></div>
<div class="tx" style="left:20px;top:140px;line-height:20px;font-size:14px;color:#222">采购</div>
<div class="tx" style="left:20px;top:169px;line-height:20px;font-size:14px;color:#777">采购金额</div>
<div class="tx" style="right:20px;top:170px;line-height:20px;font-size:16px;color:#333;letter-spacing:.8px">***</div>
<div class="tx" style="left:20px;top:193px;line-height:20px;font-size:14px;color:#777">商品种类</div>
<div class="tx" style="right:20px;top:194px;line-height:20px;font-size:16px;color:#333;letter-spacing:.8px">***</div>
</div>
<div class="card" id="r2" style="left:1677px;top:327px;width:216px;height:154px">
<div class="tx" style="left:20px;top:13.500px;line-height:24px;font-size:16px;font-weight:700;color:#111">产品公告</div>
<div class="tx" style="left:172px;top:14.500px;line-height:18px;font-size:12px;color:#666">更多</div>
<div class="tx" style="left:20px;top:47.800px;line-height:20px;font-size:15px;color:#aaa">2022-04-13</div>
<div class="tx" style="left:20px;top:70px;line-height:18px;font-size:12px;color:#222">云进销存产品更新公告_20220...</div>
<div class="tx" style="left:20px;top:94.500px;line-height:20px;font-size:15px;color:#aaa">2022-04-13</div>
<div class="tx" style="left:19.800px;top:117.500px;line-height:18px;font-size:12px;color:#222">【重要通知】精斗云工作台域...</div>
</div>
<div class="card" id="r3" style="left:1677px;top:491px;width:216px;height:217px">
<div class="tx" style="left:20px;top:14.300px;line-height:24px;font-size:16px;font-weight:700;color:#111">快速发起</div>
<svg class="abs" style="left:178px;top:19px" width="17" height="17" viewBox="0 0 17 17" fill="none" stroke="#222" stroke-width="1.200"><path d="M1 16h15"/><path d="M3.200 12.600l.5-3.100L11.400 1.800a1 1 0 0 1 1.400 0l1.200 1.200a1 1 0 0 1 0 1.400L6.300 12.100z" stroke-linejoin="round"/></svg>
<svg class="abs" style="left:45px;top:51px" width="37" height="37" viewBox="0 0 37 37"><rect width="37" height="37" rx="4" fill="#44bb70"/><path d="M7.600 19.300L18.600 8.600 29.600 19.300" fill="none" stroke="#fff" stroke-width="2.500" stroke-linejoin="miter" stroke-linecap="round"/><path d="M9.800 20.700L18.700 12.400 27.800 20.700V30.100H9.800z" fill="#fff"/><path d="M21 21.700h-6.600M16.600 19.500l-2.200 2.200 2.200 2.200M17 25.400h6.800M21.600 23.200l2.200 2.200-2.200 2.200" fill="none" stroke="#44bb70" stroke-width="1.200"/></svg>
<svg class="abs" style="left:141px;top:51px" width="37" height="37" viewBox="0 0 37 37"><rect width="37" height="37" rx="4" fill="#fcb81e"/><path d="M7.600 19.300L18.600 8.600 29.600 19.300" fill="none" stroke="#fff" stroke-width="2.500" stroke-linejoin="miter" stroke-linecap="round"/><path d="M9.800 20.700L18.700 12.400 27.800 20.700V30.100H9.800z" fill="#fff"/><path d="M21 21.700h-6.600M16.600 19.500l-2.200 2.200 2.200 2.200M17 25.400h6.800M21.600 23.200l2.200 2.200-2.200 2.200" fill="none" stroke="#fcb81e" stroke-width="1.200"/></svg>
<svg class="abs" style="left:45px;top:136px" width="37" height="37" viewBox="0 0 37 37"><rect width="37" height="37" rx="4" fill="#fd7f1c"/><path d="M5.600 9.200h4.700l1 3.900h19.700l-2.300 8.700H13.300L10.300 11.600H5.600z" fill="#fff"/><path d="M19.600 12l3-3.900 3 3.900z" fill="#fff"/><rect x="13.600" y="23.600" width="14.600" height="2.100" fill="#fff"/><circle cx="14.300" cy="28.600" r="2.200" fill="#fff"/><circle cx="25" cy="28.600" r="2.200" fill="#fff"/></svg>
<svg class="abs" style="left:141px;top:136px" width="37" height="37" viewBox="0 0 37 37"><rect width="37" height="37" rx="4" fill="#3a82f0"/><path d="M18.80 7.20L21.92 14.41L29.74 15.15L23.84 20.34L25.56 28.00L18.80 24.00L12.04 28.00L13.76 20.34L7.86 15.15L15.68 14.41z" fill="none" stroke="#fff" stroke-width="2" stroke-linejoin="round"/></svg>
<div class="tx" style="left:13.500px;top:95px;width:100px;text-align:center;line-height:20px;font-size:14px;color:#555">调拨单</div>
<div class="tx" style="left:109.500px;top:95px;width:100px;text-align:center;line-height:20px;font-size:14px;color:#555">盘点</div>
<div class="tx" style="left:13.500px;top:180px;width:100px;text-align:center;line-height:20px;font-size:14px;color:#555">以销定购</div>
<div class="tx" style="left:109.500px;top:180px;width:100px;text-align:center;line-height:20px;font-size:14px;color:#555">增值服务</div>
</div>
<div class="abs" id="banner" style="left:1677px;top:718px;width:216px;height:122px;overflow:hidden;background:linear-gradient(118deg,#ffa42e 0%,#fe7a45 22%,#fb5760 50%,#f9507a 75%,#f6459c 100%)">
<div class="abs" style="left:22px;top:-20px;width:60px;height:60px;border-radius:10px;transform:rotate(45deg);background:rgba(255,190,80,.18)"></div>
<div class="abs" style="left:-6px;top:40px;width:56px;height:56px;border-radius:10px;transform:rotate(45deg);background:rgba(255,150,80,.16)"></div>
<div class="abs" style="left:150px;top:50px;width:70px;height:70px;border-radius:12px;transform:rotate(45deg);background:rgba(255,120,160,.16)"></div>
<div class="abs" style="left:100px;top:-30px;width:60px;height:60px;border-radius:10px;transform:rotate(45deg);background:rgba(255,110,110,.14)"></div>
<div class="tx" style="left:1.500px;top:21px;width:216px;text-align:center;line-height:30px;font-size:24px;font-weight:700;-webkit-text-stroke:.5px #fff;color:#fff">精斗云新版首页</div>
<div class="tx" style="left:1.500px;top:50px;width:216px;text-align:center;line-height:30px;font-size:24px;font-weight:700;-webkit-text-stroke:.5px #fff;color:#fff;letter-spacing:1.100px">满意度调研2.0</div>
<div class="tx" style="left:1.500px;top:94px;width:216px;text-align:center;line-height:16px;font-size:10px;font-weight:700;-webkit-text-stroke:.25px rgba(255,255,255,.8);color:rgba(255,255,255,.9)">全新首页已到来<span style="display:inline-block;width:12.500px"></span>期待收到您的反馈</div>
</div>
<div class="card" id="r4" style="left:1677px;top:850px;width:216px;height:130px;border-radius:8px 8px 0 0">
<div class="tx" style="left:19.500px;top:8.500px;line-height:24px;font-size:16px;font-weight:700;color:#111">精斗云APP</div>
<div class="abs" style="left:111px;top:10.500px;width:40px;height:19.500px;border-radius:10px;background:#fff0da;color:#fa6c1e;font-size:12px;line-height:19.500px;text-align:center">免费</div>
<svg class="abs" style="left:58px;top:42.500px" width="100" height="100" viewBox="0 0 100 100"><defs><radialGradient id="qg" cx="50" cy="50" r="70" gradientUnits="userSpaceOnUse"><stop offset="0" stop-color="#1f9ae6"/><stop offset=".55" stop-color="#1279cc"/><stop offset="1" stop-color="#0754a8"/></radialGradient></defs><g fill="url(#qg)" stroke="none"><circle cx="29.31" cy="1.72" r="1.72"/><rect x="29.31" y="0.00" width="3.45" height="3.45"/><circle cx="32.76" cy="1.72" r="1.72"/><rect x="32.76" y="0.00" width="3.45" height="3.45"/><rect x="31.03" y="1.72" width="3.45" height="3.45"/><circle cx="36.21" cy="1.72" r="1.72"/><rect x="36.21" y="0.00" width="3.45" height="3.45"/><circle cx="39.66" cy="1.72" r="1.72"/><rect x="37.93" y="1.72" width="3.45" height="3.45"/><circle cx="46.55" cy="1.72" r="1.72"/><rect x="44.83" y="1.72" width="3.45" height="3.45"/><circle cx="56.90" cy="1.72" r="1.72"/><rect x="56.90" y="0.00" width="3.45" height="3.45"/><circle cx="60.34" cy="1.72" r="1.72"/><rect x="60.34" y="0.00" width="3.45" height="3.45"/><circle cx="63.79" cy="1.72" r="1.72"/><circle cx="32.76" cy="5.17" r="1.72"/><rect x="31.03" y="5.17" width="3.45" height="3.45"/><circle cx="39.66" cy="5.17" r="1.72"/><rect x="37.93" y="5.17" width="3.45" height="3.45"/><circle cx="46.55" cy="5.17" r="1.72"/><rect x="46.55" y="3.45" width="3.45" height="3.45"/><rect x="44.83" y="5.17" width="3.45" height="3.45"/><circle cx="50.00" cy="5.17" r="1.72"/><rect x="50.00" y="3.45" width="3.45" height="3.45"/><rect x="48.28" y="5.17" width="3.45" height="3.45"/><circle cx="53.45" cy="5.17" r="1.72"/><circle cx="32.76" cy="8.62" r="1.72"/><rect x="31.03" y="8.62" width="3.45" height="3.45"/><circle cx="39.66" cy="8.62" r="1.72"/><rect x="39.66" y="6.90" width="3.45" height="3.45"/><rect x="37.93" y="8.62" width="3.45" height="3.45"/><circle cx="43.10" cy="8.62" r="1.72"/><rect x="43.10" y="6.90" width="3.45" height="3.45"/><rect x="41.38" y="8.62" width="3.45" height="3.45"/><circle cx="46.55" cy="8.62" r="1.72"/><rect x="46.55" y="6.90" width="3.45" height="3.45"/><circle cx="50.00" cy="8.62" r="1.72"/><rect x="48.28" y="8.62" width="3.45" height="3.45"/><circle cx="63.79" cy="8.62" r="1.72"/><rect x="63.79" y="6.90" width="3.45" height="3.45"/><circle cx="67.24" cy="8.62" r="1.72"/><rect x="65.52" y="8.62" width="3.45" height="3.45"/><circle cx="29.31" cy="12.07" r="1.72"/><rect x="29.31" y="10.34" width="3.45" height="3.45"/><circle cx="32.76" cy="12.07" r="1.72"/><rect x="31.03" y="12.07" width="3.45" height="3.45"/><circle cx="39.66" cy="12.07" r="1.72"/><rect x="39.66" y="10.34" width="3.45" height="3.45"/><rect x="37.93" y="12.07" width="3.45" height="3.45"/><circle cx="43.10" cy="12.07" r="1.72"/><rect x="41.38" y="12.07" width="3.45" height="3.45"/><circle cx="50.00" cy="12.07" r="1.72"/><circle cx="67.24" cy="12.07" r="1.72"/><rect x="65.52" y="12.07" width="3.45" height="3.45"/><circle cx="32.76" cy="15.52" r="1.72"/><rect x="31.03" y="15.52" width="3.45" height="3.45"/><circle cx="39.66" cy="15.52" r="1.72"/><rect x="39.66" y="13.79" width="3.45" height="3.45"/><rect x="37.93" y="15.52" width="3.45" height="3.45"/><circle cx="43.10" cy="15.52" r="1.72"/><rect x="43.10" y="13.79" width="3.45" height="3.45"/><rect x="41.38" y="15.52" width="3.45" height="3.45"/><circle cx="46.55" cy="15.52" r="1.72"/><rect x="44.83" y="15.52" width="3.45" height="3.45"/><circle cx="53.45" cy="15.52" r="1.72"/><rect x="53.45" y="13.79" width="3.45" height="3.45"/><rect x="51.72" y="15.52" width="3.45" height="3.45"/><circle cx="56.90" cy="15.52" r="1.72"/><circle cx="67.24" cy="15.52" r="1.72"/><rect x="65.52" y="15.52" width="3.45" height="3.45"/><circle cx="32.76" cy="18.97" r="1.72"/><rect x="31.03" y="18.97" width="3.45" height="3.45"/><circle cx="39.66" cy="18.97" r="1.72"/><rect x="39.66" y="17.24" width="3.45" height="3.45"/><rect x="37.93" y="18.97" width="3.45" height="3.45"/><circle cx="43.10" cy="18.97" r="1.72"/><rect x="43.10" y="17.24" width="3.45" height="3.45"/><circle cx="46.55" cy="18.97" r="1.72"/><rect x="46.55" y="17.24" width="3.45" height="3.45"/><rect x="44.83" y="18.97" width="3.45" height="3.45"/><circle cx="50.00" cy="18.97" r="1.72"/><rect x="50.00" y="17.24" width="3.45" height="3.45"/><rect x="48.28" y="18.97" width="3.45" height="3.45"/><circle cx="53.45" cy="18.97" r="1.72"/><circle cx="60.34" cy="18.97" r="1.72"/><circle cx="67.24" cy="18.97" r="1.72"/><circle cx="29.31" cy="22.41" r="1.72"/><rect x="29.31" y="20.69" width="3.45" height="3.45"/><circle cx="32.76" cy="22.41" r="1.72"/><rect x="31.03" y="22.41" width="3.45" height="3.45"/><circle cx="39.66" cy="22.41" r="1.72"/><rect x="37.93" y="22.41" width="3.45" height="3.45"/><circle cx="46.55" cy="22.41" r="1.72"/><rect x="46.55" y="20.69" width="3.45" height="3.45"/><rect x="44.83" y="22.41" width="3.45" height="3.45"/><circle cx="50.00" cy="22.41" r="1.72"/><circle cx="56.90" cy="22.41" r="1.72"/><circle cx="63.79" cy="22.41" r="1.72"/><rect x="62.07" y="22.41" width="3.45" height="3.45"/><circle cx="70.69" cy="22.41" r="1.72"/><rect x="68.97" y="22.41" width="3.45" height="3.45"/><circle cx="32.76" cy="25.86" r="1.72"/><rect x="32.76" y="24.14" width="3.45" height="3.45"/><circle cx="36.21" cy="25.86" r="1.72"/><rect x="36.21" y="24.14" width="3.45" height="3.45"/><circle cx="39.66" cy="25.86" r="1.72"/><circle cx="46.55" cy="25.86" r="1.72"/><circle cx="60.34" cy="25.86" r="1.72"/><rect x="60.34" y="24.14" width="3.45" height="3.45"/><rect x="58.62" y="25.86" width="3.45" height="3.45"/><circle cx="63.79" cy="25.86" r="1.72"/><circle cx="70.69" cy="25.86" r="1.72"/><rect x="68.97" y="25.86" width="3.45" height="3.45"/><circle cx="8.62" cy="29.31" r="1.72"/><rect x="6.90" y="29.31" width="3.45" height="3.45"/><circle cx="15.52" cy="29.31" r="1.72"/><rect x="15.52" y="27.59" width="3.45" height="3.45"/><circle cx="18.97" cy="29.31" r="1.72"/><rect x="18.97" y="27.59" width="3.45" height="3.45"/><rect x="17.24" y="29.31" width="3.45" height="3.45"/><circle cx="22.41" cy="29.31" r="1.72"/><circle cx="29.31" cy="29.31" r="1.72"/><rect x="27.59" y="29.31" width="3.45" height="3.45"/><circle cx="43.10" cy="29.31" r="1.72"/><circle cx="53.45" cy="29.31" r="1.72"/><circle cx="60.34" cy="29.31" r="1.72"/><rect x="58.62" y="29.31" width="3.45" height="3.45"/><circle cx="67.24" cy="29.31" r="1.72"/><rect x="67.24" y="27.59" width="3.45" height="3.45"/><rect x="65.52" y="29.31" width="3.45" height="3.45"/><circle cx="70.69" cy="29.31" r="1.72"/><rect x="70.69" y="27.59" width="3.45" height="3.45"/><circle cx="74.14" cy="29.31" r="1.72"/><rect x="72.41" y="29.31" width="3.45" height="3.45"/><circle cx="87.93" cy="29.31" r="1.72"/><circle cx="98.28" cy="29.31" r="1.72"/><rect x="96.55" y="29.31" width="3.45" height="3.45"/><circle cx="1.72" cy="32.76" r="1.72"/><rect x="0.00" y="32.76" width="3.45" height="3.45"/><circle cx="8.62" cy="32.76" r="1.72"/><circle cx="18.97" cy="32.76" r="1.72"/><circle cx="25.86" cy="32.76" r="1.72"/><rect x="25.86" y="31.03" width="3.45" height="3.45"/><rect x="24.14" y="32.76" width="3.45" height="3.45"/><circle cx="29.31" cy="32.76" r="1.72"/><rect x="29.31" y="31.03" width="3.45" height="3.45"/><circle cx="32.76" cy="32.76" r="1.72"/><rect x="32.76" y="31.03" width="3.45" height="3.45"/><circle cx="36.21" cy="32.76" r="1.72"/><rect x="36.21" y="31.03" width="3.45" height="3.45"/><circle cx="39.66" cy="32.76" r="1.72"/><rect x="37.93" y="32.76" width="3.45" height="3.45"/><circle cx="50.00" cy="32.76" r="1.72"/><circle cx="60.34" cy="32.76" r="1.72"/><rect x="60.34" y="31.03" width="3.45" height="3.45"/><circle cx="63.79" cy="32.76" r="1.72"/><rect x="63.79" y="31.03" width="3.45" height="3.45"/><rect x="62.07" y="32.76" width="3.45" height="3.45"/><circle cx="67.24" cy="32.76" r="1.72"/><circle cx="74.14" cy="32.76" r="1.72"/><rect x="74.14" y="31.03" width="3.45" height="3.45"/><circle cx="77.59" cy="32.76" r="1.72"/><circle cx="91.38" cy="32.76" r="1.72"/><circle cx="98.28" cy="32.76" r="1.72"/><rect x="96.55" y="32.76" width="3.45" height="3.45"/><circle cx="1.72" cy="36.21" r="1.72"/><circle cx="12.07" cy="36.21" r="1.72"/><circle cx="22.41" cy="36.21" r="1.72"/><rect x="22.41" y="34.48" width="3.45" height="3.45"/><circle cx="25.86" cy="36.21" r="1.72"/><circle cx="39.66" cy="36.21" r="1.72"/><rect x="39.66" y="34.48" width="3.45" height="3.45"/><rect x="37.93" y="36.21" width="3.45" height="3.45"/><circle cx="43.10" cy="36.21" r="1.72"/><rect x="41.38" y="36.21" width="3.45" height="3.45"/><circle cx="53.45" cy="36.21" r="1.72"/><rect x="53.45" y="34.48" width="3.45" height="3.45"/><circle cx="56.90" cy="36.21" r="1.72"/><rect x="55.17" y="36.21" width="3.45" height="3.45"/><circle cx="63.79" cy="36.21" r="1.72"/><circle cx="81.03" cy="36.21" r="1.72"/><circle cx="94.83" cy="36.21" r="1.72"/><rect x="94.83" y="34.48" width="3.45" height="3.45"/><rect x="93.10" y="36.21" width="3.45" height="3.45"/><circle cx="98.28" cy="36.21" r="1.72"/><circle cx="8.62" cy="39.66" r="1.72"/><rect x="6.90" y="39.66" width="3.45" height="3.45"/><circle cx="15.52" cy="39.66" r="1.72"/><rect x="15.52" y="37.93" width="3.45" height="3.45"/><circle cx="18.97" cy="39.66" r="1.72"/><circle cx="39.66" cy="39.66" r="1.72"/><rect x="39.66" y="37.93" width="3.45" height="3.45"/><rect x="37.93" y="39.66" width="3.45" height="3.45"/><circle cx="43.10" cy="39.66" r="1.72"/><rect x="43.10" y="37.93" width="3.45" height="3.45"/><rect x="41.38" y="39.66" width="3.45" height="3.45"/><circle cx="46.55" cy="39.66" r="1.72"/><rect x="46.55" y="37.93" width="3.45" height="3.45"/><rect x="44.83" y="39.66" width="3.45" height="3.45"/><circle cx="50.00" cy="39.66" r="1.72"/><rect x="48.28" y="39.66" width="3.45" height="3.45"/><circle cx="56.90" cy="39.66" r="1.72"/><rect x="55.17" y="39.66" width="3.45" height="3.45"/><circle cx="70.69" cy="39.66" r="1.72"/><rect x="70.69" y="37.93" width="3.45" height="3.45"/><rect x="68.97" y="39.66" width="3.45" height="3.45"/><circle cx="74.14" cy="39.66" r="1.72"/><rect x="74.14" y="37.93" width="3.45" height="3.45"/><circle cx="77.59" cy="39.66" r="1.72"/><rect x="75.86" y="39.66" width="3.45" height="3.45"/><circle cx="84.48" cy="39.66" r="1.72"/><circle cx="94.83" cy="39.66" r="1.72"/><circle cx="5.17" cy="43.10" r="1.72"/><rect x="5.17" y="41.38" width="3.45" height="3.45"/><circle cx="8.62" cy="43.10" r="1.72"/><rect x="8.62" y="41.38" width="3.45" height="3.45"/><rect x="6.90" y="43.10" width="3.45" height="3.45"/><circle cx="12.07" cy="43.10" r="1.72"/><circle cx="22.41" cy="43.10" r="1.72"/><rect x="22.41" y="41.38" width="3.45" height="3.45"/><circle cx="25.86" cy="43.10" r="1.72"/><circle cx="39.66" cy="43.10" r="1.72"/><rect x="39.66" y="41.38" width="3.45" height="3.45"/><circle cx="43.10" cy="43.10" r="1.72"/><rect x="43.10" y="41.38" width="3.45" height="3.45"/><circle cx="46.55" cy="43.10" r="1.72"/><rect x="46.55" y="41.38" width="3.45" height="3.45"/><circle cx="50.00" cy="43.10" r="1.72"/><rect x="50.00" y="41.38" width="3.45" height="3.45"/><circle cx="53.45" cy="43.10" r="1.72"/><rect x="53.45" y="41.38" width="3.45" height="3.45"/><circle cx="56.90" cy="43.10" r="1.72"/><circle cx="63.79" cy="43.10" r="1.72"/><rect x="63.79" y="41.38" width="3.45" height="3.45"/><circle cx="67.24" cy="43.10" r="1.72"/><rect x="67.24" y="41.38" width="3.45" height="3.45"/><circle cx="70.69" cy="43.10" r="1.72"/><circle cx="77.59" cy="43.10" r="1.72"/><rect x="77.59" y="41.38" width="3.45" height="3.45"/><rect x="75.86" y="43.10" width="3.45" height="3.45"/><circle cx="81.03" cy="43.10" r="1.72"/><rect x="79.31" y="43.10" width="3.45" height="3.45"/><circle cx="8.62" cy="46.55" r="1.72"/><rect x="6.90" y="46.55" width="3.45" height="3.45"/><circle cx="15.52" cy="46.55" r="1.72"/><circle cx="29.31" cy="46.55" r="1.72"/><rect x="27.59" y="46.55" width="3.45" height="3.45"/><circle cx="74.14" cy="46.55" r="1.72"/><rect x="74.14" y="44.83" width="3.45" height="3.45"/><circle cx="77.59" cy="46.55" r="1.72"/><rect x="77.59" y="44.83" width="3.45" height="3.45"/><rect x="75.86" y="46.55" width="3.45" height="3.45"/><circle cx="81.03" cy="46.55" r="1.72"/><rect x="79.31" y="46.55" width="3.45" height="3.45"/><circle cx="91.38" cy="46.55" r="1.72"/><rect x="91.38" y="44.83" width="3.45" height="3.45"/><rect x="89.66" y="46.55" width="3.45" height="3.45"/><circle cx="94.83" cy="46.55" r="1.72"/><rect x="94.83" y="44.83" width="3.45" height="3.45"/><circle cx="98.28" cy="46.55" r="1.72"/><rect x="96.55" y="46.55" width="3.45" height="3.45"/><circle cx="1.72" cy="50.00" r="1.72"/><rect x="1.72" y="48.28" width="3.45" height="3.45"/><rect x="0.00" y="50.00" width="3.45" height="3.45"/><circle cx="5.17" cy="50.00" r="1.72"/><rect x="5.17" y="48.28" width="3.45" height="3.45"/><rect x="3.45" y="50.00" width="3.45" height="3.45"/><circle cx="8.62" cy="50.00" r="1.72"/><rect x="8.62" y="48.28" width="3.45" height="3.45"/><rect x="6.90" y="50.00" width="3.45" height="3.45"/><circle cx="12.07" cy="50.00" r="1.72"/><circle cx="18.97" cy="50.00" r="1.72"/><rect x="18.97" y="48.28" width="3.45" height="3.45"/><rect x="17.24" y="50.00" width="3.45" height="3.45"/><circle cx="22.41" cy="50.00" r="1.72"/><rect x="22.41" y="48.28" width="3.45" height="3.45"/><circle cx="25.86" cy="50.00" r="1.72"/><rect x="25.86" y="48.28" width="3.45" height="3.45"/><circle cx="29.31" cy="50.00" r="1.72"/><rect x="29.31" y="48.28" width="3.45" height="3.45"/><circle cx="32.76" cy="50.00" r="1.72"/><circle cx="77.59" cy="50.00" r="1.72"/><rect x="77.59" y="48.28" width="3.45" height="3.45"/><circle cx="81.03" cy="50.00" r="1.72"/><rect x="79.31" y="50.00" width="3.45" height="3.45"/><circle cx="91.38" cy="50.00" r="1.72"/><circle cx="98.28" cy="50.00" r="1.72"/><circle cx="1.72" cy="53.45" r="1.72"/><rect x="1.72" y="51.72" width="3.45" height="3.45"/><rect x="0.00" y="53.45" width="3.45" height="3.45"/><circle cx="5.17" cy="53.45" r="1.72"/><rect x="5.17" y="51.72" width="3.45" height="3.45"/><circle cx="8.62" cy="53.45" r="1.72"/><rect x="6.90" y="53.45" width="3.45" height="3.45"/><circle cx="15.52" cy="53.45" r="1.72"/><rect x="15.52" y="51.72" width="3.45" height="3.45"/><circle cx="18.97" cy="53.45" r="1.72"/><circle cx="67.24" cy="53.45" r="1.72"/><rect x="67.24" y="51.72" width="3.45" height="3.45"/><rect x="65.52" y="53.45" width="3.45" height="3.45"/><circle cx="70.69" cy="53.45" r="1.72"/><rect x="68.97" y="53.45" width="3.45" height="3.45"/><circle cx="81.03" cy="53.45" r="1.72"/><circle cx="1.72" cy="56.90" r="1.72"/><circle cx="8.62" cy="56.90" r="1.72"/><rect x="8.62" y="55.17" width="3.45" height="3.45"/><rect x="6.90" y="56.90" width="3.45" height="3.45"/><circle cx="12.07" cy="56.90" r="1.72"/><circle cx="22.41" cy="56.90" r="1.72"/><circle cx="29.31" cy="56.90" r="1.72"/><rect x="29.31" y="55.17" width="3.45" height="3.45"/><rect x="27.59" y="56.90" width="3.45" height="3.45"/><circle cx="32.76" cy="56.90" r="1.72"/><circle cx="39.66" cy="56.90" r="1.72"/><rect x="37.93" y="56.90" width="3.45" height="3.45"/><circle cx="53.45" cy="56.90" r="1.72"/><rect x="51.72" y="56.90" width="3.45" height="3.45"/><circle cx="60.34" cy="56.90" r="1.72"/><rect x="58.62" y="56.90" width="3.45" height="3.45"/><circle cx="67.24" cy="56.90" r="1.72"/><rect x="67.24" y="55.17" width="3.45" height="3.45"/><circle cx="70.69" cy="56.90" r="1.72"/><rect x="70.69" y="55.17" width="3.45" height="3.45"/><circle cx="74.14" cy="56.90" r="1.72"/><rect x="72.41" y="56.90" width="3.45" height="3.45"/><circle cx="87.93" cy="56.90" r="1.72"/><rect x="86.21" y="56.90" width="3.45" height="3.45"/><circle cx="8.62" cy="60.34" r="1.72"/><circle cx="15.52" cy="60.34" r="1.72"/><rect x="13.79" y="60.34" width="3.45" height="3.45"/><circle cx="29.31" cy="60.34" r="1.72"/><rect x="27.59" y="60.34" width="3.45" height="3.45"/><circle cx="36.21" cy="60.34" r="1.72"/><rect x="36.21" y="58.62" width="3.45" height="3.45"/><circle cx="39.66" cy="60.34" r="1.72"/><rect x="39.66" y="58.62" width="3.45" height="3.45"/><circle cx="43.10" cy="60.34" r="1.72"/><circle cx="53.45" cy="60.34" r="1.72"/><rect x="53.45" y="58.62" width="3.45" height="3.45"/><circle cx="56.90" cy="60.34" r="1.72"/><rect x="56.90" y="58.62" width="3.45" height="3.45"/><circle cx="60.34" cy="60.34" r="1.72"/><rect x="58.62" y="60.34" width="3.45" height="3.45"/><circle cx="74.14" cy="60.34" r="1.72"/><rect x="74.14" y="58.62" width="3.45" height="3.45"/><circle cx="77.59" cy="60.34" r="1.72"/><rect x="77.59" y="58.62" width="3.45" height="3.45"/><circle cx="81.03" cy="60.34" r="1.72"/><rect x="79.31" y="60.34" width="3.45" height="3.45"/><circle cx="87.93" cy="60.34" r="1.72"/><rect x="86.21" y="60.34" width="3.45" height="3.45"/><circle cx="94.83" cy="60.34" r="1.72"/><rect x="94.83" y="58.62" width="3.45" height="3.45"/><rect x="93.10" y="60.34" width="3.45" height="3.45"/><circle cx="98.28" cy="60.34" r="1.72"/><rect x="96.55" y="60.34" width="3.45" height="3.45"/><circle cx="1.72" cy="63.79" r="1.72"/><circle cx="15.52" cy="63.79" r="1.72"/><circle cx="22.41" cy="63.79" r="1.72"/><rect x="22.41" y="62.07" width="3.45" height="3.45"/><circle cx="25.86" cy="63.79" r="1.72"/><rect x="25.86" y="62.07" width="3.45" height="3.45"/><circle cx="29.31" cy="63.79" r="1.72"/><rect x="27.59" y="63.79" width="3.45" height="3.45"/><circle cx="50.00" cy="63.79" r="1.72"/><circle cx="60.34" cy="63.79" r="1.72"/><rect x="58.62" y="63.79" width="3.45" height="3.45"/><circle cx="67.24" cy="63.79" r="1.72"/><rect x="67.24" y="62.07" width="3.45" height="3.45"/><circle cx="70.69" cy="63.79" r="1.72"/><rect x="68.97" y="63.79" width="3.45" height="3.45"/><circle cx="81.03" cy="63.79" r="1.72"/><rect x="81.03" y="62.07" width="3.45" height="3.45"/><rect x="79.31" y="63.79" width="3.45" height="3.45"/><circle cx="84.48" cy="63.79" r="1.72"/><rect x="84.48" y="62.07" width="3.45" height="3.45"/><circle cx="87.93" cy="63.79" r="1.72"/><circle cx="94.83" cy="63.79" r="1.72"/><rect x="94.83" y="62.07" width="3.45" height="3.45"/><rect x="93.10" y="63.79" width="3.45" height="3.45"/><circle cx="98.28" cy="63.79" r="1.72"/><rect x="96.55" y="63.79" width="3.45" height="3.45"/><circle cx="5.17" cy="67.24" r="1.72"/><rect x="5.17" y="65.52" width="3.45" height="3.45"/><circle cx="8.62" cy="67.24" r="1.72"/><circle cx="29.31" cy="67.24" r="1.72"/><rect x="29.31" y="65.52" width="3.45" height="3.45"/><circle cx="32.76" cy="67.24" r="1.72"/><rect x="32.76" y="65.52" width="3.45" height="3.45"/><rect x="31.03" y="67.24" width="3.45" height="3.45"/><circle cx="36.21" cy="67.24" r="1.72"/><rect x="36.21" y="65.52" width="3.45" height="3.45"/><rect x="34.48" y="67.24" width="3.45" height="3.45"/><circle cx="39.66" cy="67.24" r="1.72"/><rect x="37.93" y="67.24" width="3.45" height="3.45"/><circle cx="46.55" cy="67.24" r="1.72"/><rect x="44.83" y="67.24" width="3.45" height="3.45"/><circle cx="53.45" cy="67.24" r="1.72"/><rect x="53.45" y="65.52" width="3.45" height="3.45"/><circle cx="56.90" cy="67.24" r="1.72"/><rect x="56.90" y="65.52" width="3.45" height="3.45"/><rect x="55.17" y="67.24" width="3.45" height="3.45"/><circle cx="60.34" cy="67.24" r="1.72"/><rect x="60.34" y="65.52" width="3.45" height="3.45"/><circle cx="63.79" cy="67.24" r="1.72"/><rect x="62.07" y="67.24" width="3.45" height="3.45"/><circle cx="70.69" cy="67.24" r="1.72"/><rect x="70.69" y="65.52" width="3.45" height="3.45"/><rect x="68.97" y="67.24" width="3.45" height="3.45"/><circle cx="74.14" cy="67.24" r="1.72"/><circle cx="81.03" cy="67.24" r="1.72"/><rect x="79.31" y="67.24" width="3.45" height="3.45"/><circle cx="94.83" cy="67.24" r="1.72"/><rect x="94.83" y="65.52" width="3.45" height="3.45"/><rect x="93.10" y="67.24" width="3.45" height="3.45"/><circle cx="98.28" cy="67.24" r="1.72"/><rect x="96.55" y="67.24" width="3.45" height="3.45"/><circle cx="1.72" cy="70.69" r="1.72"/><circle cx="18.97" cy="70.69" r="1.72"/><rect x="18.97" y="68.97" width="3.45" height="3.45"/><circle cx="22.41" cy="70.69" r="1.72"/><circle cx="32.76" cy="70.69" r="1.72"/><rect x="32.76" y="68.97" width="3.45" height="3.45"/><rect x="31.03" y="70.69" width="3.45" height="3.45"/><circle cx="36.21" cy="70.69" r="1.72"/><rect x="36.21" y="68.97" width="3.45" height="3.45"/><rect x="34.48" y="70.69" width="3.45" height="3.45"/><circle cx="39.66" cy="70.69" r="1.72"/><rect x="39.66" y="68.97" width="3.45" height="3.45"/><rect x="37.93" y="70.69" width="3.45" height="3.45"/><circle cx="43.10" cy="70.69" r="1.72"/><rect x="43.10" y="68.97" width="3.45" height="3.45"/><rect x="41.38" y="70.69" width="3.45" height="3.45"/><circle cx="46.55" cy="70.69" r="1.72"/><rect x="46.55" y="68.97" width="3.45" height="3.45"/><rect x="44.83" y="70.69" width="3.45" height="3.45"/><circle cx="50.00" cy="70.69" r="1.72"/><circle cx="56.90" cy="70.69" r="1.72"/><rect x="55.17" y="70.69" width="3.45" height="3.45"/><circle cx="63.79" cy="70.69" r="1.72"/><rect x="63.79" y="68.97" width="3.45" height="3.45"/><rect x="62.07" y="70.69" width="3.45" height="3.45"/><circle cx="67.24" cy="70.69" r="1.72"/><rect x="67.24" y="68.97" width="3.45" height="3.45"/><rect x="65.52" y="70.69" width="3.45" height="3.45"/><circle cx="70.69" cy="70.69" r="1.72"/><circle cx="81.03" cy="70.69" r="1.72"/><rect x="81.03" y="68.97" width="3.45" height="3.45"/><circle cx="84.48" cy="70.69" r="1.72"/><circle cx="94.83" cy="70.69" r="1.72"/><rect x="94.83" y="68.97" width="3.45" height="3.45"/><circle cx="98.28" cy="70.69" r="1.72"/><rect x="96.55" y="70.69" width="3.45" height="3.45"/><circle cx="29.31" cy="74.14" r="1.72"/><rect x="29.31" y="72.41" width="3.45" height="3.45"/><rect x="27.59" y="74.14" width="3.45" height="3.45"/><circle cx="32.76" cy="74.14" r="1.72"/><rect x="32.76" y="72.41" width="3.45" height="3.45"/><circle cx="36.21" cy="74.14" r="1.72"/><rect x="36.21" y="72.41" width="3.45" height="3.45"/><rect x="34.48" y="74.14" width="3.45" height="3.45"/><circle cx="39.66" cy="74.14" r="1.72"/><rect x="39.66" y="72.41" width="3.45" height="3.45"/><circle cx="43.10" cy="74.14" r="1.72"/><rect x="43.10" y="72.41" width="3.45" height="3.45"/><circle cx="46.55" cy="74.14" r="1.72"/><circle cx="56.90" cy="74.14" r="1.72"/><rect x="55.17" y="74.14" width="3.45" height="3.45"/><circle cx="63.79" cy="74.14" r="1.72"/><rect x="63.79" y="72.41" width="3.45" height="3.45"/><circle cx="67.24" cy="74.14" r="1.72"/><circle cx="74.14" cy="74.14" r="1.72"/><rect x="74.14" y="72.41" width="3.45" height="3.45"/><circle cx="77.59" cy="74.14" r="1.72"/><rect x="75.86" y="74.14" width="3.45" height="3.45"/><circle cx="87.93" cy="74.14" r="1.72"/><rect x="87.93" y="72.41" width="3.45" height="3.45"/><circle cx="91.38" cy="74.14" r="1.72"/><circle cx="98.28" cy="74.14" r="1.72"/><rect x="96.55" y="74.14" width="3.45" height="3.45"/><circle cx="1.72" cy="77.59" r="1.72"/><rect x="1.72" y="75.86" width="3.45" height="3.45"/><circle cx="5.17" cy="77.59" r="1.72"/><rect x="5.17" y="75.86" width="3.45" height="3.45"/><circle cx="8.62" cy="77.59" r="1.72"/><rect x="8.62" y="75.86" width="3.45" height="3.45"/><circle cx="12.07" cy="77.59" r="1.72"/><rect x="12.07" y="75.86" width="3.45" height="3.45"/><circle cx="15.52" cy="77.59" r="1.72"/><rect x="15.52" y="75.86" width="3.45" height="3.45"/><circle cx="18.97" cy="77.59" r="1.72"/><rect x="18.97" y="75.86" width="3.45" height="3.45"/><circle cx="22.41" cy="77.59" r="1.72"/><circle cx="29.31" cy="77.59" r="1.72"/><circle cx="36.21" cy="77.59" r="1.72"/><circle cx="50.00" cy="77.59" r="1.72"/><circle cx="56.90" cy="77.59" r="1.72"/><circle cx="70.69" cy="77.59" r="1.72"/><circle cx="77.59" cy="77.59" r="1.72"/><circle cx="84.48" cy="77.59" r="1.72"/><circle cx="98.28" cy="77.59" r="1.72"/></g><rect x="1.72" y="1.72" width="20.69" height="20.69" rx="5.86" fill="none" stroke="url(#qg)" stroke-width="3.45"/><circle cx="12.07" cy="12.07" r="5.17" fill="url(#qg)"/><rect x="77.59" y="1.72" width="20.69" height="20.69" rx="5.86" fill="none" stroke="url(#qg)" stroke-width="3.45"/><circle cx="87.93" cy="12.07" r="5.17" fill="url(#qg)"/><rect x="37" y="46" width="28" height="8" fill="#fff"/><circle cx="40" cy="47.6" r=".9" fill="#2b83f3"/><circle cx="38" cy="49.6" r=".8" fill="#12c6fb"/><circle cx="40" cy="51.6" r=".9" fill="#14c3bd"/><rect x="43" y="48.2" width="10" height="3" fill="#5b93f5" opacity=".7"/><rect x="54" y="48.2" width="9" height="3" fill="#9fb8f7" opacity=".6"/></svg>
</div>
<!-- SCROLLBAR -->
<div class="abs" id="sb" style="left:1903px;top:77px;width:17px;height:892px;background:#f1f1f1">
<div class="abs" style="left:2px;top:17px;width:13px;height:789px;background:#c1c1c1"></div>
<svg class="abs" style="left:4.500px;top:6.500px" width="8" height="5" viewBox="0 0 8 5"><path d="M0 4.500L4 .3 8 4.500z" fill="#a3a3a3"/></svg>
<svg class="abs" style="left:4.500px;top:881.500px" width="8" height="5" viewBox="0 0 8 5"><path d="M0 .3L4 4.500 8 .3z" fill="#505050"/></svg>
</div>
</body>
</html>
